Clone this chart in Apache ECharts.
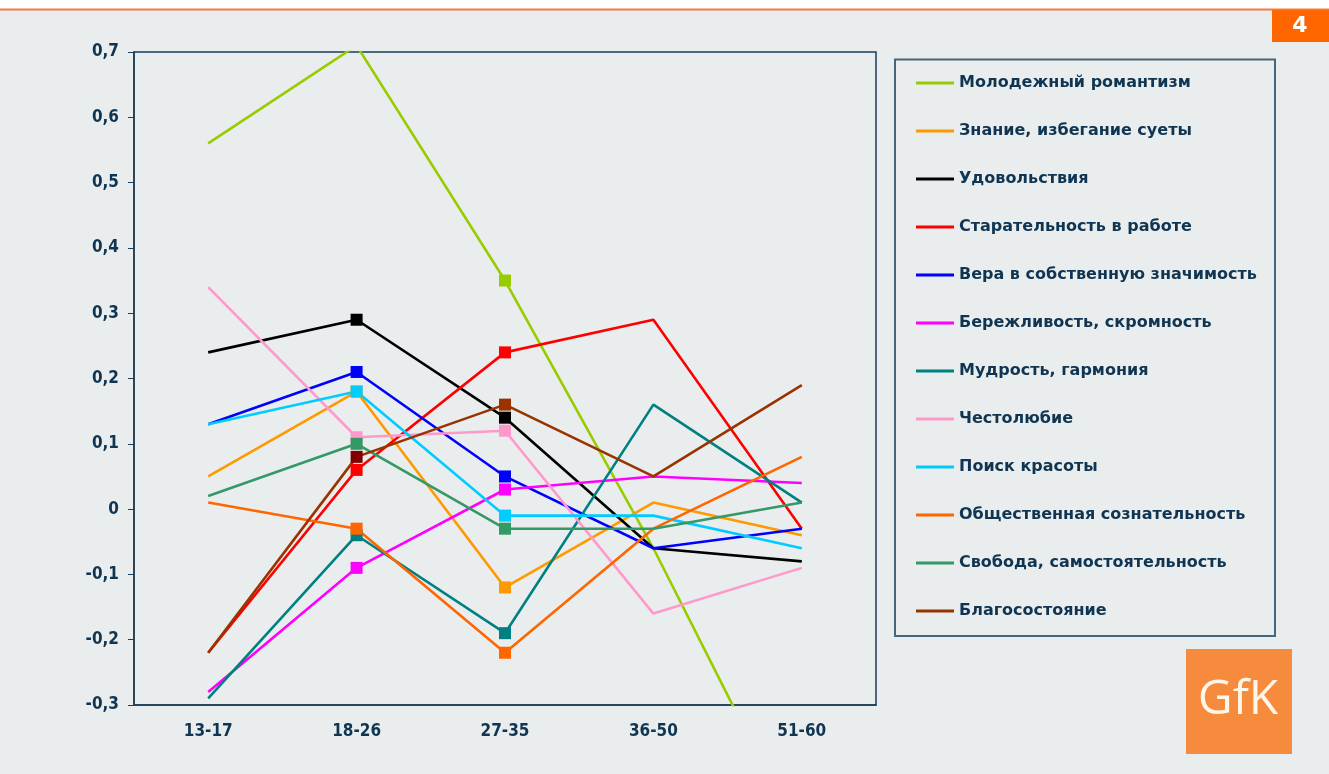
<!DOCTYPE html>
<html lang="ru">
<head>
<meta charset="utf-8">
<title>Ценности по возрастным группам</title>
<script src="https://cdn.jsdelivr.net/npm/echarts@6/dist/echarts.min.js"></script>
<style>
  html, body { margin: 0; padding: 0; background: #E9EDED; }
  #chart { width: 1329px; height: 774px; }
</style>
</head>
<body>
<div id="chart"></div>
<script>
// Age groups on the category axis
const ageGroups = ['13-17', '18-26', '27-35', '36-50', '51-60'];

// Value axis range and step
const yMin = -0.3;
const yMax = 0.7;
const yStep = 0.1;

// Series names (legend order)
const seriesNames = [
  'Молодежный романтизм',
  'Знание, избегание суеты',
  'Удовольствия',
  'Старательность в работе',
  'Вера в собственную значимость',
  'Бережливость, скромность',
  'Мудрость, гармония',
  'Честолюбие',
  'Поиск красоты',
  'Общественная сознательность',
  'Свобода, самостоятельность',
  'Благосостояние'
];

// Values per age group, one array per series
const youthRomanticism   = [0.56, 0.71, 0.35, -0.06, -0.51];
const knowledgeCalm      = [0.05, 0.18, -0.12, 0.01, -0.04];
const pleasures          = [0.24, 0.29, 0.14, -0.06, -0.08];
const diligence          = [-0.22, 0.06, 0.24, 0.29, -0.03];
const selfImportance     = [0.13, 0.21, 0.05, -0.06, -0.03];
const thrift             = [-0.28, -0.09, 0.03, 0.05, 0.04];
const wisdomHarmony      = [-0.29, -0.04, -0.19, 0.16, 0.01];
const ambition           = [0.34, 0.11, 0.12, -0.16, -0.09];
const beautySearch       = [0.13, 0.18, -0.01, -0.01, -0.06];
const socialAwareness    = [0.01, -0.03, -0.22, -0.03, 0.08];
const freedomIndependent = [0.02, 0.10, -0.03, -0.03, 0.01];
const wellBeing          = [-0.22, 0.08, 0.16, 0.05, 0.19];

const seriesValues = [
  youthRomanticism, knowledgeCalm, pleasures, diligence, selfImportance, thrift,
  wisdomHarmony, ambition, beautySearch, socialAwareness, freedomIndependent, wellBeing
];

const seriesColors = [
  '#99CC00', '#FF9900', '#000000', '#FF0000', '#0000FF', '#FF00FF',
  '#008080', '#FF99CC', '#00CCFF', '#FF6600', '#339966', '#993300'
];

// Square markers are shown only on these age groups
const markedPoints = [1, 2];
// Individual marker colour overrides: [series index, point index, colour]
const markerOverrides = [[11, 1, '#800000']];

const navy = '#0F3552';
const axisColor = '#1B3D58';
const axisFont = '"DejaVu Sans Condensed", "DejaVu Sans", Verdana, sans-serif';
const legendFont = '"DejaVu Sans", Verdana, sans-serif';

const series = seriesNames.map((name, s) => ({
  name: name,
  type: 'line',
  color: seriesColors[s],
  lineStyle: { width: 2.6, color: seriesColors[s] },
  symbol: (val, params) => markedPoints.includes(params.dataIndex) ? 'rect' : 'none',
  symbolSize: 12,
  showSymbol: true,
  clip: true,
  animation: false,
  emphasis: { disabled: true },
  data: seriesValues[s].map((v, i) => {
    const o = markerOverrides.find(m => m[0] === s && m[1] === i);
    return o ? { value: v, itemStyle: { color: o[2] } } : v;
  })
}));

const chart = echarts.init(document.getElementById('chart'), null, { renderer: 'canvas' });

chart.setOption({
  backgroundColor: '#E9EDED',
  animation: false,
  grid: {
    left: 134, top: 52, right: 453, bottom: 69,
    show: true,
    borderColor: axisColor,
    borderWidth: 1.5,
    backgroundColor: 'transparent'
  },
  xAxis: {
    type: 'category',
    data: ageGroups,
    boundaryGap: true,
    axisLine: { onZero: false, lineStyle: { color: axisColor, width: 1.5 } },
    axisTick: { show: false },
    axisLabel: {
      color: navy, fontWeight: 'bold', fontSize: 17, fontFamily: axisFont, margin: 18
    },
    splitLine: { show: false }
  },
  yAxis: {
    type: 'value',
    min: yMin, max: yMax, interval: yStep,
    axisLine: { show: true, lineStyle: { color: axisColor, width: 1.5 } },
    axisTick: { show: true, inside: false, length: 6, lineStyle: { color: axisColor, width: 1 } },
    axisLabel: {
      color: navy, fontWeight: 'bold', fontSize: 17, fontFamily: axisFont, margin: 15,
      formatter: v => Math.abs(v) < 1e-9 ? '0' : v.toFixed(1).replace('.', ',')
    },
    splitLine: { show: false }
  },
  legend: {
    orient: 'vertical',
    left: 916, top: 73,
    padding: 0,
    icon: 'rect',
    itemWidth: 38,
    itemHeight: 3,
    itemGap: 28,
    selectedMode: false,
    data: seriesNames,
    textStyle: {
      color: navy, fontWeight: 'bold', fontSize: 16, fontFamily: legendFont, lineHeight: 20
    }
  },
  graphic: [
    // white header strip with orange rule
    { type: 'rect', z: 100, shape: { x: 0, y: 0, width: 1329, height: 9 }, style: { fill: '#FFFFFF' } },
    { type: 'rect', z: 100, shape: { x: 0, y: 8.5, width: 1329, height: 2 }, style: { fill: '#F47B3C' } },
    // page number tab
    { type: 'rect', z: 100, shape: { x: 1272, y: 10, width: 57, height: 32 }, style: { fill: '#FF6600' } },
    { type: 'text', z: 101, x: 1300, y: 26,
      style: { text: '4', fill: '#FFFFFF', font: 'bold 22px ' + legendFont, align: 'center', verticalAlign: 'middle' } },
    // legend frame
    { type: 'rect', z: 100, shape: { x: 895, y: 59.5, width: 380, height: 576.5 },
      style: { fill: 'none', stroke: '#46667D', lineWidth: 2 } },
    // logo
    { type: 'rect', z: 100, shape: { x: 1186, y: 649, width: 106, height: 105 }, style: { fill: '#F68A3D' } },
    { type: 'text', z: 101, x: 1238, y: 700,
      style: { text: 'GfK', fill: '#FFF6E8', font: '48px "Open Sans", sans-serif', align: 'center', verticalAlign: 'middle' } }
  ],
  series: series
});
</script>
</body>
</html>
